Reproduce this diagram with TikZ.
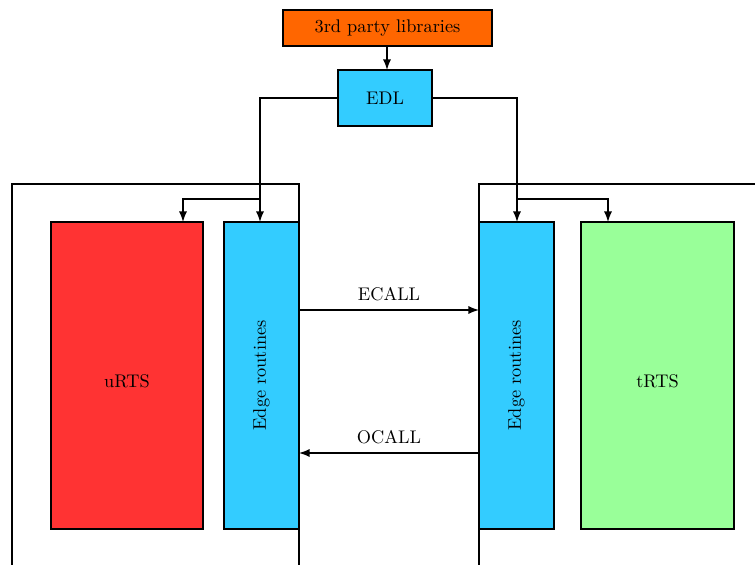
\documentclass[tikz,border=0pt]{standalone}
\usepackage{graphicx}
% one drawing unit
\def\pxu{0.5464pt}
\definecolor{libcol}{HTML}{FF6600}
\definecolor{edgecol}{HTML}{33CCFF}
\definecolor{ucol}{HTML}{FF3333}
\definecolor{tcol}{HTML}{99FF99}
\tikzset{
  block/.style={draw, line width=1pt, inner sep=0pt, outer sep=0pt},
  sized/.style 2 args={minimum width=#1*\pxu, minimum height=#2*\pxu},
  lowtext/.style={label={[yshift=-3pt]center:#1}},
  arr/.style={-latex, line width=1pt},
}
\begin{document}
\begin{tikzpicture}[x=\pxu, y=-\pxu]
\useasboundingbox (0,0) rectangle (755,564);
\clip (0,0) rectangle (755,564);

% enclosing regions (run past the page edge)
\node[block, sized={287}{436}] (uwrap) at (155.5,402) {};
\node[block, sized={341}{436}] (twrap) at (649.5,402) {};

% top blocks
\node[block, fill=libcol, sized={209}{36}] (lib) at (387.5,28) {3rd party libraries};
\node[block, fill=edgecol, sized={94}{56}] (edl) at (385,98) {EDL};

% runtime blocks
\node[block, fill=ucol, sized={152}{307}, lowtext=uRTS] (urts) at (127,375.5) {};
\node[block, fill=edgecol, sized={75}{307}] (edgeL) at (261.5,375.5) {\rotatebox{90}{Edge routines}};
\node[block, fill=edgecol, sized={75}{307}] (edgeR) at (516.5,375.5) {\rotatebox{90}{Edge routines}};
\node[block, fill=tcol, sized={153}{307}, lowtext=tRTS] (trts) at (657.5,375.5) {};

% junction points and arrow targets
\coordinate (jl) at (260,199);
\coordinate (jr) at (517,199);
\coordinate (el) at (260,222);
\coordinate (er) at (517,222);
\coordinate (ut) at (183,222);
\coordinate (tt) at (608,222);
\coordinate (lt) at (387,70);

% connectors
\draw[arr] (lib.south -| lt) -- (lt);
\draw[arr] (edl.west) -| (el);
\draw[arr] (jl) -| (ut);
\draw[arr] (edl.east) -| (er);
\draw[arr] (jr) -| (tt);

\draw[arr] (edgeL.east |- 0,310) -- node[above=1pt] {ECALL} (edgeR.west |- 0,310);
\draw[arr] (edgeR.west |- 0,453) -- node[above=1pt] {OCALL} (edgeL.east |- 0,453);
\end{tikzpicture}
\end{document}
